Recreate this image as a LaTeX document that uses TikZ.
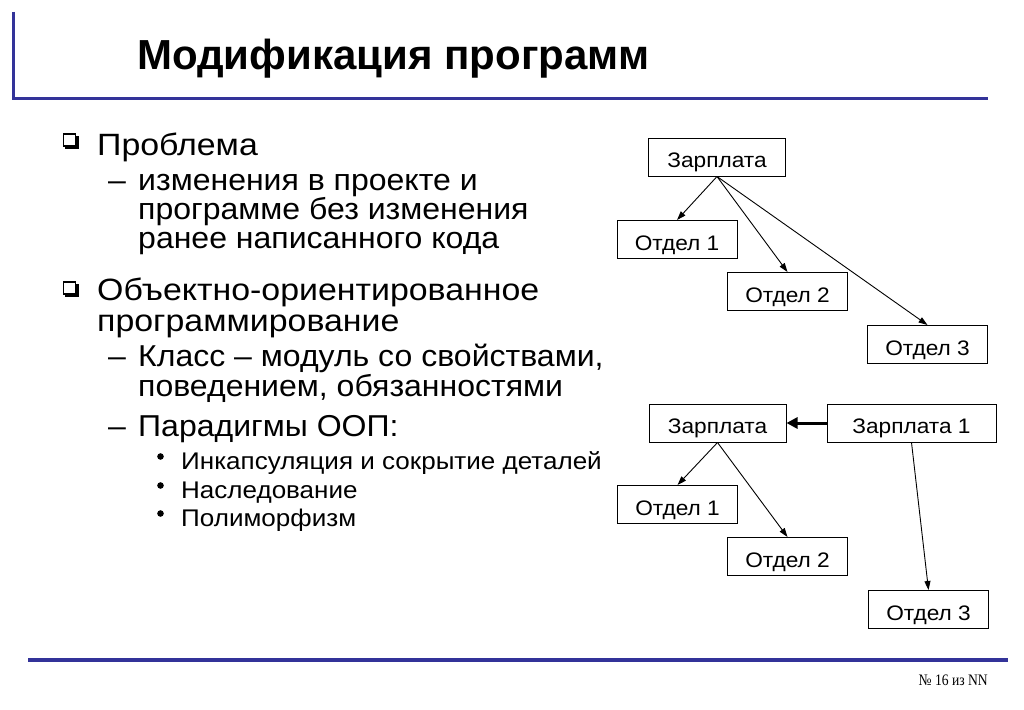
\documentclass[tikz,border=0pt]{standalone}
\usepackage{fontspec}
\setmainfont{Liberation Sans}
\newfontfamily\bodyfont[FakeStretch=1.1]{Liberation Sans}
\newfontfamily\subfont[FakeStretch=1.06]{Liberation Sans}
\newfontfamily\smallfont[FakeStretch=1.08]{Liberation Sans}
\newfontfamily\boxfont[FakeStretch=1.08]{Liberation Sans}
\newfontfamily\footfont[FakeStretch=0.85]{Liberation Serif}
\usetikzlibrary{arrows.meta}
\definecolor{frameblue}{RGB}{51,51,153}
\begin{document}
\begin{tikzpicture}[x=1pt,y=-1pt,
  lvone/.style={anchor=base west, inner sep=0, font=\bodyfont\fontsize{30.8}{30.8}\selectfont},
  lvtwo/.style={anchor=base west, inner sep=0, font=\subfont\fontsize{30.2}{30.2}\selectfont},
  lvthree/.style={anchor=base west, inner sep=0, font=\smallfont\fontsize{24.1}{24.1}\selectfont},
  box/.style={draw, line width=1pt, minimum width=120pt, minimum height=38pt, inner sep=0,
    text height=21pt, text depth=0pt, font=\boxfont\fontsize{21}{21}\selectfont},
  link/.style={line width=0.9pt, -{Triangle[length=9pt,width=6pt]}},
  biglink/.style={line width=3pt, -{Triangle[length=11pt,width=11pt]}},
  sqbullet/.style={line width=1.4pt},
  dotbullet/.style={fill=black}
]
\useasboundingbox (0,0) rectangle (1024,709);
\fill[white] (0,0) rectangle (1024,709);

% frame lines
\draw[frameblue, line width=3pt] (13,12) -- (13,98) -- (988,98);
\draw[frameblue, line width=4pt] (28,660) -- (1008,660);

% title
\node[anchor=base west, inner sep=0, font=\bfseries\fontsize{42}{42}\selectfont] (title) at (137,70) {Модификация программ};

% level 1 bullets (shadowed squares)
\draw[sqbullet] (63.5,134) rectangle (75.5,146);
\draw[line width=2.2pt] (65,148) -- (77.5,148) -- (77.5,135.5);
\draw[sqbullet] (63.5,282) rectangle (75.5,294);
\draw[line width=2.2pt] (65,296) -- (77.5,296) -- (77.5,283.5);

\node[lvone] (p1) at (97,155) {Проблема};
\node[lvtwo] (d1) at (108,190) {–};
\node[lvtwo] (p1a) at (138,190) {изменения в проекте и};
\node[lvtwo] (p1b) at (138,219) {программе без изменения};
\node[lvtwo] (p1c) at (138,248) {ранее написанного кода};

\node[lvone] (p2a) at (97,300) {Объектно-ориентированное};
\node[lvone] (p2b) at (97,331) {программирование};
\node[lvtwo] (d2) at (108,366) {–};
\node[lvtwo] (p3a) at (138,366) {Класс – модуль со свойствами,};
\node[lvtwo] (p3b) at (138,396) {поведением, обязанностями};
\node[lvtwo] (d3) at (108,436) {–};
\node[lvtwo] (p4) at (138,436) {Парадигмы ООП:};

\fill[dotbullet] (160.5,456.5) circle (3.3);
\fill[dotbullet] (160.5,485.5) circle (3.3);
\fill[dotbullet] (160.5,513.5) circle (3.3);
\node[lvthree] (q1) at (181,469.5) {Инкапсуляция и сокрытие деталей};
\node[lvthree] (q2) at (181,498.5) {Наследование};
\node[lvthree] (q3) at (181,526.5) {Полиморфизм};

% top diagram
\node[box, minimum width=137pt] (za) at (717,157) {Зарплата};
\node[box] (oa1) at (677,239.5) {Отдел 1};
\node[box] (oa2) at (787.5,291.5) {Отдел 2};
\node[box] (oa3) at (927.5,344.5) {Отдел 3};
\draw[link] (za.south) -- (oa1.north);
\draw[link] (za.south) -- (oa2.north);
\draw[link] (za.south) -- (oa3.north);

% bottom diagram
\node[box, minimum width=137pt] (zb) at (717.5,423) {Зарплата};
\node[box, minimum width=169pt] (zb1) at (911.5,423) {Зарплата 1};
\node[box] (ob1) at (677.5,504.5) {Отдел 1};
\node[box] (ob2) at (787.5,556.5) {Отдел 2};
\node[box] (ob3) at (928.5,609.5) {Отдел 3};
\draw[biglink] (zb1.west) -- (zb.east);
\draw[link] (zb.south) -- (ob1.north);
\draw[link] (zb.south) -- (ob2.north);
\draw[link] (zb1.south) -- (ob3.north);

% footer
\node[anchor=base east, inner sep=0, font=\footfont\fontsize{16}{16}\selectfont] (foot) at (988,685) {№ 16 из NN};
\end{tikzpicture}
\end{document}
